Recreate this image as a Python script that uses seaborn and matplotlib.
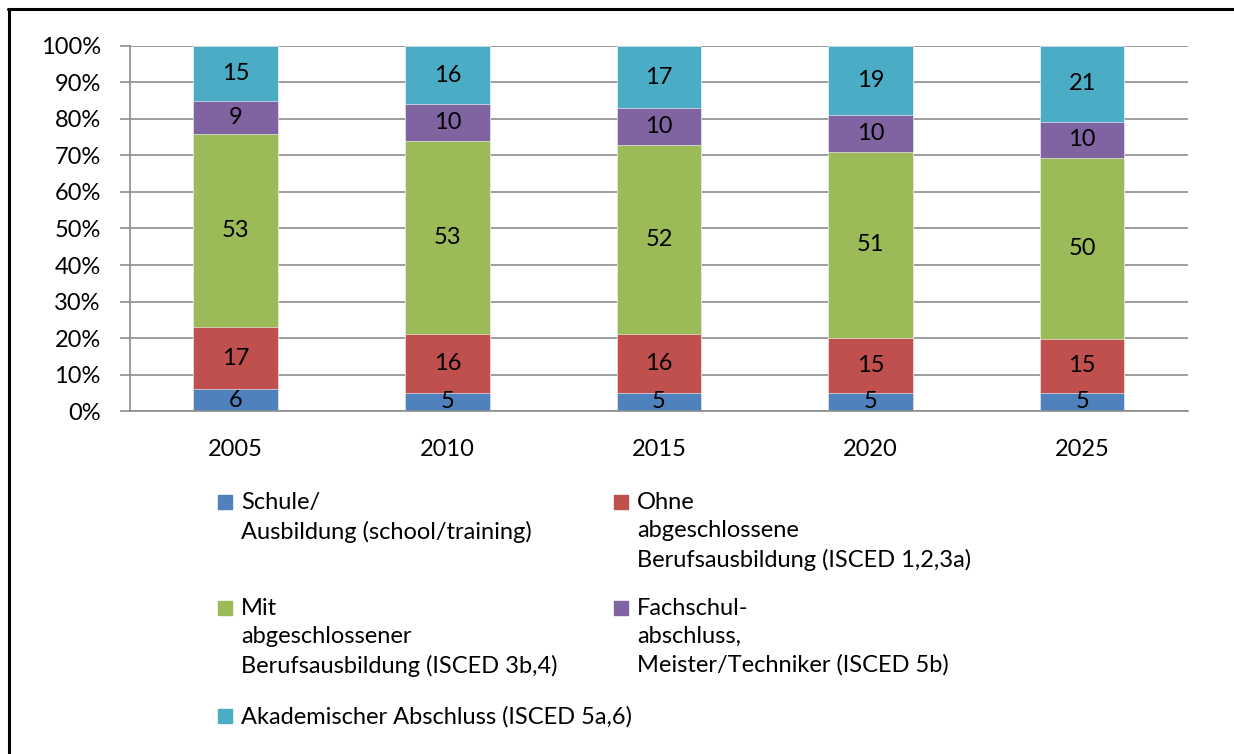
import numpy as np
import pandas as pd
import matplotlib.pyplot as plt
import matplotlib.patches as mpatches
from matplotlib.lines import Line2D
import seaborn as sns

# Anteile nach Qualifikationsniveau (in %), von unten nach oben gestapelt
years = ['2005', '2010', '2015', '2020', '2025']
schule = [6, 5, 5, 5, 5]
ohne = [17, 16, 16, 15, 15]
mit = [53, 53, 52, 51, 50]
fachschul = [9, 10, 10, 10, 10]
akademisch = [15, 16, 17, 19, 21]

series_labels = [
    'Schule/\nAusbildung (school/training)',
    'Ohne\nabgeschlossene\nBerufsausbildung (ISCED 1,2,3a)',
    'Mit\nabgeschlossener\nBerufsausbildung (ISCED 3b,4)',
    'Fachschul-\nabschluss,\nMeister/Techniker (ISCED 5b)',
    'Akademischer Abschluss (ISCED 5a,6)',
]
colors = ['#4F81BD', '#C0504D', '#9BBB59', '#8064A2', '#4BACC6']

vals = np.array([schule, ohne, mit, fachschul, akademisch], dtype=float)
shares = vals / vals.sum(axis=0) * 100
cum = shares.cumsum(axis=0)

sns.set_theme(style='white')
plt.rcParams['font.family'] = ['Lato', 'DejaVu Sans']
fs = 17

fig = plt.figure(figsize=(12.34, 7.54), dpi=100)
ax = fig.add_axes([0.1053, 0.4549, 0.8574, 0.4841])

# overdraw cumulative totals from top layer to bottom
for i in range(4, -1, -1):
    df = pd.DataFrame({'Jahr': years, 'Anteil': cum[i]})
    sns.barplot(data=df, x='Jahr', y='Anteil', color=colors[i], width=0.4,
                saturation=1, ax=ax, edgecolor='white', linewidth=0.4, zorder=2)

for i in range(5):
    bottom = cum[i] - shares[i]
    for j in range(len(years)):
        ax.text(j, bottom[j] + shares[i][j] / 2, f'{int(vals[i][j])}',
                ha='center', va='center', fontsize=fs, color='black', zorder=3)

ax.set_ylim(0, 100)
ax.set_xlim(-0.5, 4.5)
ax.set_yticks(range(0, 101, 10))
ax.set_yticklabels([f'{v}%' for v in range(0, 101, 10)])
ax.yaxis.grid(True, color='#8c8c8c', linewidth=1.2)
ax.set_axisbelow(True)
ax.set_xlabel('')
ax.set_ylabel('')

ax.set_xticks(range(len(years)))
ax.set_xticklabels(years)
ax.set_xticks(np.arange(-0.5, 5, 1), minor=True)
ax.tick_params(axis='x', which='major', length=0, pad=20, labelsize=fs, labelcolor='black')
ax.tick_params(axis='x', which='minor', length=7, width=1.2, color='#8c8c8c', direction='out')
ax.tick_params(axis='y', length=7, width=1.2, color='#8c8c8c', direction='out',
               labelsize=fs, labelcolor='black', pad=14, left=True)

for side in ['top', 'right']:
    ax.spines[side].set_visible(False)
for side in ['left', 'bottom']:
    ax.spines[side].set_color('#8c8c8c')
    ax.spines[side].set_linewidth(1.2)

# legend, drawn by hand so the marker sits on the first line
W, H = 1234, 754
legend_pos = [(218, 492), (614, 492), (218, 598), (614, 598), (218, 706)]
for (px, py), lab, col in zip(legend_pos, series_labels, colors):
    fig.patches.append(mpatches.Rectangle((px / W, 1 - (py + 17) / H), 14 / W, 14 / H,
                                          transform=fig.transFigure, color=col))
    fig.text((px + 23) / W, 1 - py / H, lab, ha='left', va='top',
             fontsize=fs, color='black', linespacing=1.42)

# outer frame (cut off at right and bottom)
fig.add_artist(Line2D([9 / W, 9 / W], [0, 1 - 9 / H], color='black', linewidth=2.2,
                      transform=fig.transFigure))
fig.add_artist(Line2D([8 / W, 1], [1 - 9 / H, 1 - 9 / H], color='black', linewidth=2.2,
                      transform=fig.transFigure))

fig.savefig('out.png', dpi=100)
